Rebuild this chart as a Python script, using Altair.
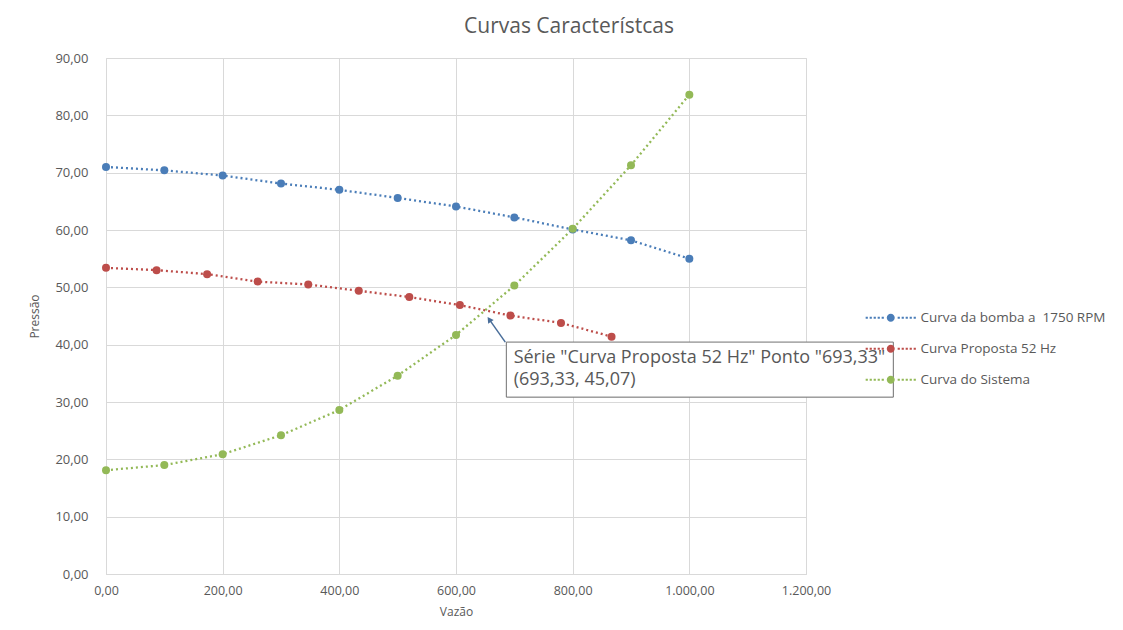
import altair as alt
import pandas as pd

# ---------------- data ----------------
series_names = ["Curva da bomba a\u00a0 1750 RPM", "Curva Proposta 52 Hz", "Curva do Sistema"]
series_colors = ["#4a7db8", "#bd4d4a", "#93b957"]

bomba_x = [0, 100, 200, 300, 400, 500, 600, 700, 800, 900, 1000]
bomba_y = [71.0, 70.4, 69.5, 68.1, 67.0, 65.6, 64.1, 62.2, 60.1, 58.2, 55.0]

proposta_x = [0, 86.67, 173.33, 260.0, 346.67, 433.33, 520.0, 606.67, 693.33, 780.0, 866.67]
proposta_y = [53.4, 53.0, 52.3, 51.0, 50.5, 49.4, 48.3, 46.9, 45.07, 43.8, 41.4]

sistema_x = [0, 100, 200, 300, 400, 500, 600, 700, 800, 900, 1000]
sistema_y = [18.1, 19.0, 20.9, 24.2, 28.6, 34.6, 41.7, 50.3, 60.2, 71.3, 83.6]

x_ticks = [0, 200, 400, 600, 800, 1000, 1200]
y_ticks = [0, 10, 20, 30, 40, 50, 60, 70, 80, 90]

title_text = "Curvas Característcas"
x_title = "Vazão"
y_title = "Pressão"

# tooltip annotation (Excel hover box), in data units
tip_lines = ['Série "Curva Proposta 52 Hz" Ponto "693,33"', "(693,33, 45,07)"]
tip_text_x = [698.8, 698.8]
tip_text_y = [37.6, 33.8]
tip_box_x = [686.3]
tip_box_x2 = [1349.7]
tip_box_y = [40.45]
tip_box_y2 = [30.85]
tip_arrow_x = [684.5]
tip_arrow_x2 = [657.0]
tip_arrow_y = [40.45]
tip_arrow_y2 = [44.4]

# ---------------- tables ----------------
rows = []
for name, xs, ys in [(series_names[0], bomba_x, bomba_y),
                     (series_names[1], proposta_x, proposta_y),
                     (series_names[2], sistema_x, sistema_y)]:
    for xv, yv in zip(xs, ys):
        rows.append({"serie": name, "vazao": xv, "pressao": yv})
df = pd.DataFrame(rows)

tip_df = pd.DataFrame({"t": tip_lines, "x": tip_text_x, "y": tip_text_y})
box_df = pd.DataFrame({"x": tip_box_x, "x2": tip_box_x2, "y": tip_box_y, "y2": tip_box_y2})
arrow_df = pd.DataFrame({"x": tip_arrow_x, "x2": tip_arrow_x2, "y": tip_arrow_y, "y2": tip_arrow_y2})

FONT = "Open Sans"
GRAY = "#595959"

# legend symbol: dotted line with a marker (unit = 5 px for symbolSize 100)
def legend_path():
    u = 5.0
    parts = []
    s = 2.2 / u
    for px in list(range(0, 18, 4)) + list(range(32, 49, 4)):
        cx = px / u
        parts.append(f"M{cx - s/2:.3f},{-s/2:.3f}h{s:.3f}v{s:.3f}h{-s:.3f}Z")
    r = 4.0 / u
    cx = 24 / u
    parts.append(f"M{cx - r:.3f},0A{r:.3f},{r:.3f} 0 1,0 {cx + r:.3f},0A{r:.3f},{r:.3f} 0 1,0 {cx - r:.3f},0Z")
    return "".join(parts)

label_expr = ("replace(replace(replace(format(datum.value, ',.2f'), ',', '_'), '.', ','), '_', '.')")

x_enc = alt.X("vazao:Q", title=x_title,
              scale=alt.Scale(domain=[0, 1200], nice=False, zero=False),
              axis=alt.Axis(values=x_ticks, labelExpr=label_expr, grid=True, gridColor="#d9d9d9",
                            domain=True, domainColor="#d9d9d9", ticks=False, labelPadding=10,
                            labelFlush=False, labelAlign="center",
                            labelFont=FONT, labelFontSize=12.5, labelColor=GRAY,
                            titleFont=FONT, titleFontSize=12, titleColor=GRAY, titleFontWeight="normal",
                            titlePadding=10))
y_enc = alt.Y("pressao:Q", title=y_title,
              scale=alt.Scale(domain=[0, 90], nice=False, zero=False),
              axis=alt.Axis(values=y_ticks, labelExpr=label_expr, grid=True, gridColor="#d9d9d9",
                            domain=False, ticks=False, labelPadding=18, labelFlush=False,
                            labelFont=FONT, labelFontSize=13, labelColor=GRAY,
                            titleFont=FONT, titleFontSize=12, titleColor=GRAY, titleFontWeight="normal",
                            titlePadding=13))

line_layers = []
for name, col in zip(series_names, series_colors):
    line_layers.append(
        alt.Chart(df).transform_filter(alt.datum.serie == name)
        .mark_line(strokeWidth=2.3, strokeDash=[2, 3], color=col)
        .encode(x=x_enc, y=y_enc, order="vazao:Q")
    )

points = alt.Chart(df).mark_point(filled=True, size=64, opacity=1).encode(
    x="vazao:Q", y="pressao:Q",
    color=alt.Color("serie:N", scale=alt.Scale(domain=series_names, range=series_colors),
                    legend=alt.Legend(title=None, orient="none", legendX=754, legendY=253,
                                      symbolType=legend_path(), symbolSize=100, symbolStrokeWidth=0,
                                      symbolOpacity=1, labelOffset=47, rowPadding=16,
                                      labelFont=FONT, labelFontSize=13.5, labelColor=GRAY,
                                      labelLimit=300, zindex=0)),
)

shadow = alt.Chart(box_df).mark_rect(fill="#8a8a8a", opacity=0.7).encode(
    x=alt.X("x:Q"), x2="x2:Q", y=alt.Y("y:Q"), y2="y2:Q",
    xOffset=alt.value(3), yOffset=alt.value(3))

box = alt.Chart(box_df).mark_rect(fill="white", stroke="#707070", strokeWidth=1).encode(
    x="x:Q", x2="x2:Q", y="y:Q", y2="y2:Q")

tip_text = alt.Chart(tip_df).mark_text(align="left", baseline="middle", font=FONT, fontSize=18,
                                       color="#585858").encode(
    x="x:Q", y="y:Q", text="t:N")

arrow = alt.Chart(arrow_df).mark_rule(color="#4a6e9a", strokeWidth=1.5).encode(
    x="x:Q", x2="x2:Q", y="y:Q", y2="y2:Q")

arrow_head = alt.Chart(arrow_df).mark_point(shape="triangle-up", filled=True, size=45, opacity=1,
                                            color="#4a6e9a", angle=325).encode(
    x="x2:Q", y=alt.Y("y2:Q"))

chart = alt.layer(*line_layers, points, shadow, box, tip_text, arrow, arrow_head).properties(
    width=700, height=516,
    title=alt.TitleParams(title_text, font=FONT, fontSize=21, color=GRAY, fontWeight="normal",
                          anchor="middle", frame="group", dx=113, offset=15),
    autosize=alt.AutoSizeParams(type="none"),
    padding={"left": 98, "top": 50, "right": 309, "bottom": 48},
).configure_view(stroke=None).configure(background="white")

chart.save("out.html", embed_options={"renderer": "svg", "actions": False})
